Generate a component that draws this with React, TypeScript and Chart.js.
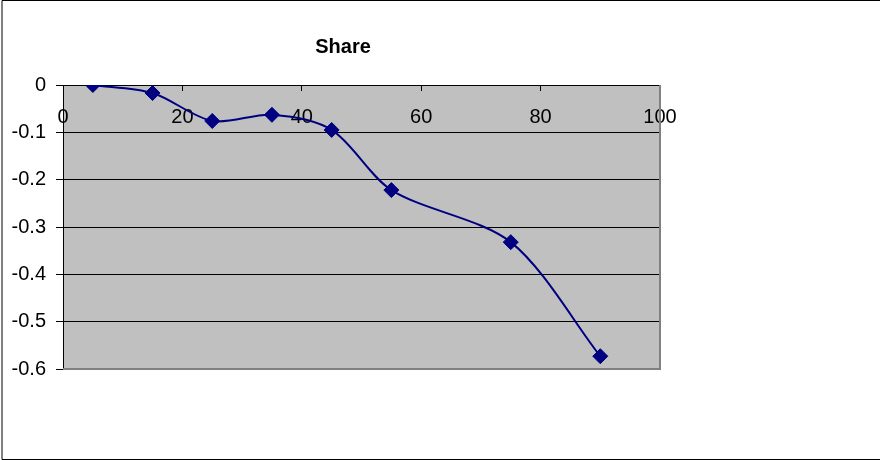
import React, { useEffect, useRef } from "react";
import { Chart, registerables } from "chart.js";

Chart.register(...registerables);

// Share values by position
const shareX = [5, 15, 25, 35, 45, 55, 75, 90];
const shareY = [0, -0.017, -0.076, -0.063, -0.095, -0.222, -0.332, -0.573];

// Axis ticks
const xTicks = [0, 20, 40, 60, 80, 100];
const xTickLabels = ["0", "20", "40", "60", "80", "100"];
const yTicks = [0, -0.1, -0.2, -0.3, -0.4, -0.5, -0.6];
const yTickLabels = ["0", "-0.1", "-0.2", "-0.3", "-0.4", "-0.5", "-0.6"];

const FONT = "Arial, 'Liberation Sans', sans-serif";
const NAVY = "#000080";

// Gray plot background, gray right/bottom frame and outer chart border
const framePlugin = {
  id: "plotFrame",
  afterLayout(chart: any) {
    // let the y labels run past the narrow axis box without being clipped
    const y = chart.scales.y;
    if (y) y.left = 0;
  },
  beforeDraw(chart: any) {
    const { ctx, chartArea: a } = chart;
    ctx.save();
    ctx.fillStyle = "#C0C0C0";
    ctx.fillRect(a.left, a.top, a.right - a.left, a.bottom - a.top);
    ctx.restore();
  },
  beforeDatasetsDraw(chart: any) {
    const { ctx, chartArea: a } = chart;
    ctx.save();
    ctx.strokeStyle = "#808080";
    ctx.lineWidth = 2;
    ctx.beginPath();
    ctx.moveTo(a.right, a.top);
    ctx.lineTo(a.right, a.bottom);
    ctx.lineTo(a.left, a.bottom);
    ctx.stroke();
    ctx.restore();
  },
  afterDraw(chart: any) {
    const { ctx, width, height } = chart;
    ctx.save();
    ctx.strokeStyle = "#000000";
    ctx.lineWidth = 1;
    ctx.beginPath();
    ctx.moveTo(width, 0.5);
    ctx.lineTo(2, 0.5);
    ctx.lineTo(2, height - 0.5);
    ctx.lineTo(width, height - 0.5);
    ctx.stroke();
    ctx.restore();
  },
};

export default function App() {
  const canvasRef = useRef<HTMLCanvasElement | null>(null);

  useEffect(() => {
    document.body.style.margin = "0";
    const canvas = canvasRef.current;
    if (!canvas) return;

    const chart = new Chart(canvas, {
      type: "scatter",
      data: {
        datasets: [
          {
            label: "Share",
            data: shareX.map((x, i) => ({ x, y: shareY[i] })),
            showLine: true,
            borderColor: NAVY,
            borderWidth: 2,
            backgroundColor: NAVY,
            pointStyle: "rectRot",
            pointRadius: 7.5,
            pointBorderWidth: 1,
            pointBorderColor: NAVY,
            pointBackgroundColor: NAVY,
            tension: 0.3,
          },
        ],
      },
      options: {
        responsive: false,
        animation: false,
        events: [],
        layout: { padding: { left: 26, right: 220, top: 0, bottom: 91 } },
        plugins: {
          legend: { display: false },
          tooltip: { enabled: false },
          title: {
            display: true,
            text: "Share",
            color: "#000000",
            font: { family: FONT, size: 20, weight: "bold" },
            padding: { top: 35, bottom: 26 },
          },
        },
        scales: {
          x: {
            type: "linear",
            position: { y: 0 } as any,
            min: 0,
            max: 100,
            afterBuildTicks: (scale: any) => {
              scale.ticks = xTicks.map((v) => ({ value: v }));
            },
            ticks: {
              color: "#000000",
              font: { family: FONT, size: 20 },
              padding: 15,
              maxRotation: 0,
              autoSkip: false,
              callback: (v: any) => xTickLabels[xTicks.indexOf(Number(v))] ?? "",
            },
            grid: {
              drawOnChartArea: false,
              drawTicks: true,
              tickLength: 5,
              color: "#000000",
              lineWidth: 1,
            },
            border: { display: true, color: "#000000", width: 1 },
          },
          y: {
            type: "linear",
            position: "left",
            min: -0.6,
            max: 0,
            afterBuildTicks: (scale: any) => {
              scale.ticks = yTicks.map((v) => ({ value: v }));
            },
            afterFit: (scale: any) => {
              scale.width = 37;
            },
            ticks: {
              color: "#000000",
              font: { family: FONT, size: 20 },
              padding: 10,
              autoSkip: false,
              callback: (v: any) => {
                const i = yTicks.findIndex((t) => Math.abs(t - Number(v)) < 1e-9);
                return i >= 0 ? yTickLabels[i] : "";
              },
            },
            grid: {
              drawOnChartArea: true,
              drawTicks: true,
              tickLength: 7,
              color: "#000000",
              lineWidth: 1,
            },
            border: { display: true, color: "#000000", width: 1 },
          },
        } as any,
      },
      plugins: [framePlugin],
    });

    return () => chart.destroy();
  }, []);

  return (
    <div style={{ width: 880, height: 460 }}>
      <canvas ref={canvasRef} width={880} height={460} style={{ display: "block" }} />
    </div>
  );
}
